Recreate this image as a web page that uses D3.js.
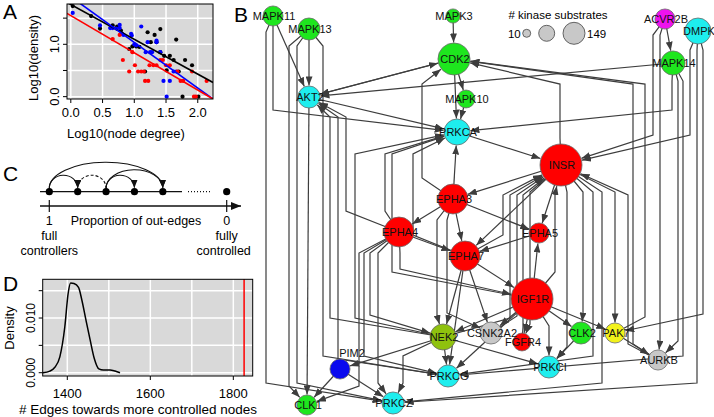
<!DOCTYPE html>
<html>
<head>
<meta charset="utf-8">
<script src="https://cdn.jsdelivr.net/npm/d3@7"></script>
<style>
  html, body { margin: 0; background: #fff; }
  svg { display: block; }
</style>
</head>
<body>
<svg id="fig" width="714" height="417"></svg>
<script>
// ---------- data: panel A (log10 node degree vs log10 density) ----------
var aBlack = [[0.03,1.73],[0.32,1.54],[0.46,1.30],[0.66,1.36],[0.73,1.34],[0.79,1.26],[0.92,0.91],[0.97,0.96],
  [1.03,0.96],[1.08,0.95],[1.21,1.23],[1.32,1.18],[1.41,1.29],[1.26,1.04],[1.35,1.04],[1.66,1.09],[1.41,0.85],
  [1.47,0.78],[1.56,0.78],[1.62,0.70],[1.80,0.70],[1.91,0.60],[1.51,0.50],[1.70,0.48],[1.17,0.48],[1.76,0.0],[2.01,0.0]];
var aBlue = [[0.03,1.60],[0.46,1.36],[0.62,1.31],[0.66,1.31],[0.77,1.37],[0.77,1.31],[0.81,1.20],[0.95,1.20],
  [0.96,1.17],[1.00,1.00],[1.03,0.98],[1.11,1.34],[1.21,1.04],[1.35,1.07],[1.35,1.04],[1.18,0.85],[1.25,0.85],
  [1.28,0.85],[1.41,0.85],[1.62,0.48],[1.66,0.48],[1.46,0.30],[1.56,0.30],[1.51,0.0],[0.72,1.30],[0.83,1.18]];
var aRed = [[0.66,1.10],[0.77,1.18],[0.82,0.70],[0.92,0.48],[0.97,0.85],[1.01,0.60],[1.06,0.48],[1.11,0.48],
  [1.15,0.48],[1.17,0.30],[1.22,0.30],[1.24,0.60],[1.30,0.60],[1.35,0.60],[1.41,0.70],[1.45,0.70],[1.50,0.60],
  [1.56,0.60],[1.68,0.48],[1.73,0.30],[1.77,0.30],[1.91,0.48],[1.94,0.0],[1.97,0.0],[2.14,0.30]];
var aFitBlack = [1.76, -0.665], aFitBlue = [1.908, -0.872], aFitRed = [1.547, -0.711]; // intercept, slope
var aXTicks = [0, 0.5, 1, 1.5, 2], aYTicks = [0, 0.5, 1, 1.5], aYLabelled = [0, 1];

// ---------- data: panel C (schematic) ----------
var cProps = [1, 0.84, 0.68, 0.52, 0.36, 0];
var cArcs = [[0, 1, 0], [0, 4, 0], [2, 1, 1], [2, 3, 0], [2, 4, 0]]; // from, to, dashed

// ---------- data: panel D (null distribution) ----------
var dEdgeCount = [1341, 1358, 1370, 1382, 1394, 1402, 1408, 1416, 1427, 1435, 1445, 1455, 1465, 1476, 1487, 1503, 1515, 1527];
var dDensity = [0.0, 0.0003, 0.001, 0.0029, 0.0084, 0.0145, 0.0164, 0.0163, 0.0156, 0.0133, 0.0096, 0.006, 0.0026, 0.0007, 0.0005, 0.0005, 0.0003, 0.0];
var dObserved = 1826;
var dXTicks = [1400, 1600, 1800], dXGrid = [1400, 1500, 1600, 1700, 1800];
var dYTicks = [0, 0.005, 0.01, 0.015], dYLabelled = [0, 0.01];

// ---------- data: panel B (kinase network; layout units) ----------
var bNames = ["MAPK11","MAPK13","MAPK3","CDK2","AKT2","MAPK10","PRKCA","ACVR2B","DMPK","MAPK14","INSR","EPHA3","EPHA4",
  "EPHA7","EPHA5","IGF1R","CSNK2A2","FGFR4","CLK2","PAK7","AURKB","PRKCI","NEK2","PRKCG","PIM2","CLK1","PRKCZ"];
var bLayoutX = [11,47,191,192,47,204,195,403,436,411,299,191,137,203,277,270,229,260,319,353,396,287,181,186,78,45,131];
var bLayoutY = [8,21,8,51,89,91,124,11,23,55,157,191,224,248,225,291,325,334,325,325,352,359,329,368,361,397,395];
var bSubstrates = [34,41,17,87,41,27,57,34,57,49,149,76,76,76,34,149,41,27,41,34,34,41,57,41,34,34,41];
var bGroup = ["CMGC","CMGC","CMGC","CMGC","AGC","CMGC","AGC","TKL","AGC","CMGC","TK","TK","TK",
  "TK","TK","TK","Other","TK","CMGC","STE","Other","AGC","NEK","AGC","CAMK","CMGC","AGC"];
var bLabelAbove = ["PIM2"];
var bEdges = [
  ["MAPK11","AKT2",null],["MAPK11","PRKCA",11],["MAPK11","PRKCZ",4],
  ["MAPK13","AKT2",null],["MAPK13","CLK1",27],["MAPK13","PRKCZ",35],["MAPK13","PRKCG",61],
  ["AKT2","CDK2",null],["CDK2","AKT2",null],["AKT2","PRKCA",null],["AKT2","CLK1",null],
  ["EPHA4","AKT2",84],["NEK2","AKT2",68],["PRKCG","AKT2",76],
  ["MAPK14","AKT2",null],["MAPK14","PRKCA",410],["MAPK3","CDK2",null],["CDK2","PRKCA",null],
  ["CDK2","MAPK10",null],["MAPK10","PRKCA",null],["INSR","CDK2",298],["AURKB","CDK2",371],
  ["PAK7","CDK2",383],["EPHA3","CDK2",160],["PRKCA","INSR",null],["EPHA3","PRKCA",null],
  ["INSR","EPHA3",null],["EPHA3","EPHA4",null],["EPHA3","EPHA7",null],["EPHA3","EPHA5",null],
  ["EPHA4","EPHA7",null],["EPHA4","PRKCA",123],["IGF1R","PRKCA",130],["EPHA7","PRKCA",151],
  ["NEK2","PRKCA",93],["EPHA5","EPHA7",null],["INSR","EPHA7",null],["INSR","EPHA5",null],
  ["IGF1R","EPHA5",null],["IGF1R","INSR",293],["EPHA7","IGF1R",null],["EPHA4","IGF1R",138],
  ["IGF1R","CSNK2A2",null],["IGF1R","FGFR4",null],["IGF1R","CLK2",null],["IGF1R","PRKCI",287],
  ["IGF1R","PAK7",null],["IGF1R","NEK2",null],["IGF1R","PRKCG",null],["NEK2","PIM2",null],
  ["NEK2","PRKCG",null],["NEK2","PRKCZ",141],["PIM2","CLK1",null],["PIM2","PRKCZ",null],
  ["CLK2","PRKCI",null],["PAK7","AURKB",null],["NEK2","PRKCI",null],["INSR","FGFR4",268],
  ["EPHA7","CSNK2A2",null],["EPHA7","NEK2",null],["EPHA7","PRKCG",null],
  ["ACVR2B","INSR",391],["ACVR2B","AURKB",398],["ACVR2B","MAPK14",null],
  ["DMPK","INSR",428],["DMPK","PRKCZ",435],["DMPK","PAK7",441],
  ["MAPK14","AURKB",416],["MAPK14","PRKCG",421],
  ["INSR","CLK2",321],["INSR","PAK7",353],["INSR","PRKCI",305],["INSR","PRKCG",331],["INSR","PRKCZ",340],
  ["EPHA7","INSR",241],["NEK2","INSR",248],["CSNK2A2","INSR",255],["FGFR4","INSR",261],["AURKB","INSR",366],
  ["EPHA4","NEK2",108],["EPHA4","PRKCG",102],["EPHA4","PRKCZ",116],["EPHA4","CLK1",97],
  ["EPHA3","NEK2",175],["EPHA3","CSNK2A2",185]
];
var bLegendValues = [10, 69, 149];

// ---------- setup ----------
var FONT = '"Liberation Sans", Arial, Helvetica, sans-serif';
var BG = "#d9d9d9", EDGE = "#3d3d3d";
var svg = d3.select("#fig").attr("font-family", FONT);
var defs = svg.append("defs");
defs.append("marker").attr("id", "arr").attr("markerUnits", "userSpaceOnUse")
  .attr("markerWidth", 9).attr("markerHeight", 7).attr("refX", 9).attr("refY", 3.5).attr("orient", "auto")
  .append("path").attr("d", "M0,0 L9,3.5 L0,7 Z").attr("fill", EDGE);
defs.append("marker").attr("id", "arrC").attr("markerUnits", "userSpaceOnUse")
  .attr("markerWidth", 8).attr("markerHeight", 7).attr("refX", 8).attr("refY", 3.5).attr("orient", "auto")
  .append("path").attr("d", "M0,0 L8,3.5 L0,7 Z").attr("fill", "#111");
defs.append("marker").attr("id", "arrAx").attr("markerUnits", "userSpaceOnUse")
  .attr("markerWidth", 10).attr("markerHeight", 8).attr("refX", 10).attr("refY", 4).attr("orient", "auto")
  .append("path").attr("d", "M0,0 L10,4 L0,8 Z").attr("fill", "#111");

function letter(t, x, y) {
  svg.append("text").attr("x", x).attr("y", y).attr("font-size", 21).attr("fill", "#000").text(t);
}

// ---------- panel A ----------
var ax = d3.scaleLinear().domain([-0.06, 2.24]).range([67, 213]);
var ay = d3.scaleLinear().domain([-0.045, 1.77]).range([99, 4]);
var gA = svg.append("g");
gA.append("rect").attr("x", ax.range()[0]).attr("y", ay.range()[1]).attr("width", ax.range()[1] - ax.range()[0])
  .attr("height", ay.range()[0] - ay.range()[1]).attr("fill", BG);
aXTicks.forEach(function (t) {
  gA.append("line").attr("x1", ax(t)).attr("x2", ax(t)).attr("y1", ay.range()[0]).attr("y2", ay.range()[1]).attr("stroke", "#fff").attr("stroke-width", 1.5);
});
aYTicks.forEach(function (t) {
  gA.append("line").attr("x1", ax.range()[0]).attr("x2", ax.range()[1]).attr("y1", ay(t)).attr("y2", ay(t)).attr("stroke", "#fff").attr("stroke-width", 1.5);
});
defs.append("clipPath").attr("id", "clipA").append("rect").attr("x", ax.range()[0]).attr("y", ay.range()[1])
  .attr("width", ax.range()[1] - ax.range()[0]).attr("height", ay.range()[0] - ay.range()[1]);
[[aBlack, "#000"], [aBlue, "#0000ff"], [aRed, "#ff0000"]].forEach(function (s) {
  gA.selectAll(null).data(s[0]).enter().append("circle").attr("cx", function (d) { return ax(d[0]); })
    .attr("cy", function (d) { return ay(d[1]); }).attr("r", 2.1).attr("fill", s[1]);
});
[[aFitBlack, "#000"], [aFitBlue, "#0000ff"], [aFitRed, "#ff0000"]].forEach(function (f) {
  var x0 = ax.domain()[0], x1 = ax.domain()[1], b = f[0];
  gA.append("line").attr("clip-path", "url(#clipA)").attr("x1", ax(x0)).attr("y1", ay(b[0] + b[1] * x0))
    .attr("x2", ax(x1)).attr("y2", ay(b[0] + b[1] * x1)).attr("stroke", f[1]).attr("stroke-width", 1.6);
});
gA.append("rect").attr("x", ax.range()[0]).attr("y", ay.range()[1]).attr("width", ax.range()[1] - ax.range()[0])
  .attr("height", ay.range()[0] - ay.range()[1]).attr("fill", "none").attr("stroke", "#000").attr("stroke-width", 1);
aXTicks.forEach(function (t) {
  gA.append("line").attr("x1", ax(t)).attr("x2", ax(t)).attr("y1", 99).attr("y2", 103).attr("stroke", "#000");
  gA.append("text").attr("x", ax(t)).attr("y", 117).attr("text-anchor", "middle").attr("font-size", 13).text(t.toFixed(1));
});
aYTicks.forEach(function (t) {
  gA.append("line").attr("x1", 67).attr("x2", 63).attr("y1", ay(t)).attr("y2", ay(t)).attr("stroke", "#000");
});
aYLabelled.forEach(function (t) {
  gA.append("text").attr("transform", "translate(59," + ay(t) + ") rotate(-90)").attr("text-anchor", "middle").attr("font-size", 13).text(t.toFixed(1));
});
gA.append("text").attr("x", 126).attr("y", 138).attr("text-anchor", "middle").attr("font-size", 13).text("Log10(node degree)");
gA.append("text").attr("transform", "translate(38,58) rotate(-90)").attr("text-anchor", "middle").attr("font-size", 13).text("Log10(density)");
letter("A", 3, 19);

// ---------- panel C ----------
var cx = d3.scaleLinear().domain([1, 0]).range([49.3, 226.7]);
var cY = 191.7, axY = 206;
var gC = svg.append("g");
gC.append("line").attr("x1", 40).attr("x2", 182).attr("y1", cY).attr("y2", cY).attr("stroke", "#111").attr("stroke-width", 1.3);
gC.append("line").attr("x1", 188).attr("x2", 212).attr("y1", cY).attr("y2", cY).attr("stroke", "#111").attr("stroke-width", 1.2).attr("stroke-dasharray", "1,2");
cArcs.forEach(function (a) {
  var x1 = cx(cProps[a[0]]), x2 = cx(cProps[a[1]]), span = Math.abs(a[1] - a[0]);
  var rx = Math.abs(x2 - x1) / 2, ry = Math.min(13 * Math.sqrt(span), 26);
  gC.append("path").attr("d", "M" + x1 + "," + (cY - 3) + " A" + rx + "," + ry + " 0 0 " + (x2 > x1 ? 1 : 0) + " " + x2 + "," + (cY - 4))
    .attr("fill", "none").attr("stroke", "#111").attr("stroke-width", 1.1)
    .attr("stroke-dasharray", a[2] ? "3,2" : null).attr("marker-end", "url(#arrC)");
});
gC.selectAll(null).data(cProps).enter().append("circle").attr("cx", function (d) { return cx(d); }).attr("cy", cY).attr("r", 3.6).attr("fill", "#000");
gC.append("line").attr("x1", 40).attr("x2", 241).attr("y1", axY).attr("y2", axY).attr("stroke", "#111").attr("stroke-width", 1.3).attr("marker-end", "url(#arrAx)");
[1, 0].forEach(function (p) {
  gC.append("line").attr("x1", cx(p)).attr("x2", cx(p)).attr("y1", axY - 6).attr("y2", axY + 6).attr("stroke", "#111").attr("stroke-width", 1.2);
  gC.append("text").attr("x", cx(p)).attr("y", 225).attr("text-anchor", "middle").attr("font-size", 12.5).text(String(p));
});
gC.append("text").attr("x", 136).attr("y", 225).attr("text-anchor", "middle").attr("font-size", 12.5).text("Proportion of out-edges");
gC.append("text").attr("x", cx(1)).attr("y", 240).attr("text-anchor", "middle").attr("font-size", 12.5).text("full");
gC.append("text").attr("x", cx(1)).attr("y", 255).attr("text-anchor", "middle").attr("font-size", 12.5).text("controllers");
gC.append("text").attr("x", cx(0)).attr("y", 240).attr("text-anchor", "middle").attr("font-size", 12.5).text("fully");
gC.append("text").attr("x", cx(0) - 3).attr("y", 255).attr("text-anchor", "middle").attr("font-size", 12.5).text("controlled");
letter("C", 3, 181);

// ---------- panel D ----------
var dx = d3.scaleLinear().domain([1340.7, 1846.7]).range([42.7, 252.7]);
var dy = d3.scaleLinear().domain([-0.0006, 0.01708]).range([376, 279.3]);
var gD = svg.append("g");
gD.append("rect").attr("x", dx.range()[0]).attr("y", dy.range()[1]).attr("width", dx.range()[1] - dx.range()[0])
  .attr("height", dy.range()[0] - dy.range()[1]).attr("fill", BG);
dXGrid.forEach(function (t) {
  gD.append("line").attr("x1", dx(t)).attr("x2", dx(t)).attr("y1", dy.range()[0]).attr("y2", dy.range()[1]).attr("stroke", "#fff").attr("stroke-width", 1.5);
});
dYTicks.forEach(function (t) {
  gD.append("line").attr("x1", dx.range()[0]).attr("x2", dx.range()[1]).attr("y1", dy(t)).attr("y2", dy(t)).attr("stroke", "#fff").attr("stroke-width", 1.5);
});
gD.append("path").datum(d3.zip(dEdgeCount, dDensity))
  .attr("d", d3.line().x(function (d) { return dx(d[0]); }).y(function (d) { return dy(d[1]); }).curve(d3.curveMonotoneX))
  .attr("fill", "none").attr("stroke", "#000").attr("stroke-width", 1.5);
gD.append("line").attr("x1", dx(dObserved)).attr("x2", dx(dObserved)).attr("y1", dy.range()[0]).attr("y2", dy.range()[1]).attr("stroke", "#ff0000").attr("stroke-width", 1.5);
gD.append("rect").attr("x", dx.range()[0]).attr("y", dy.range()[1]).attr("width", dx.range()[1] - dx.range()[0])
  .attr("height", dy.range()[0] - dy.range()[1]).attr("fill", "none").attr("stroke", "#000");
dXTicks.forEach(function (t) {
  gD.append("line").attr("x1", dx(t)).attr("x2", dx(t)).attr("y1", 376).attr("y2", 380).attr("stroke", "#000");
  gD.append("text").attr("x", dx(t)).attr("y", 398).attr("text-anchor", "middle").attr("font-size", 13).text(t);
});
dYTicks.forEach(function (t) {
  gD.append("line").attr("x1", 42.7).attr("x2", 38.7).attr("y1", dy(t)).attr("y2", dy(t)).attr("stroke", "#000");
});
dYLabelled.forEach(function (t) {
  gD.append("text").attr("transform", "translate(35," + dy(t) + ") rotate(-90)").attr("text-anchor", "middle").attr("font-size", 12).text(t.toFixed(3));
});
gD.append("text").attr("x", 138).attr("y", 414).attr("text-anchor", "middle").attr("font-size", 13.5).text("# Edges towards more controlled nodes");
gD.append("text").attr("transform", "translate(14,328) rotate(-90)").attr("text-anchor", "middle").attr("font-size", 13).text("Density");
letter("D", 3, 291);

// ---------- panel B ----------
var bx = d3.scaleLinear().domain([0, 450]).range([262, 712]);
var by = d3.scaleLinear().domain([0, 404]).range([8, 412]);
var br = d3.scaleSqrt().domain([0, 149]).range([0, 21]);
var groupColor = d3.scaleOrdinal().domain(["TK", "CMGC", "AGC", "TKL", "CAMK", "STE", "NEK", "Other"])
  .range(["#ff0000", "#1ee61e", "#1eeeee", "#ee12ee", "#0a0aee", "#f2f21a", "#8fc20e", "#c8c8c8"]);
var nodes = bNames.map(function (n, i) {
  return { name: n, x: bx(bLayoutX[i]), y: by(bLayoutY[i]), r: br(bSubstrates[i]), group: bGroup[i] };
});
var nodeBy = {};
nodes.forEach(function (n) { nodeBy[n.name] = n; });

// orthogonal-ish routing: leave the source, run down/up a vertical lane, then cut across to the target
function route(e) {
  var s = nodeBy[e[0]], t = nodeBy[e[1]], pts = [[s.x, s.y]];
  if (e[2] !== null) {
    var dir = t.y >= s.y ? 1 : -1, lx = bx(e[2]);
    pts.push([lx, s.y + dir * (s.r + 6)]);
    pts.push([lx, t.y - dir * (t.r + 9)]);
  }
  var last = pts[pts.length - 1], ddx = t.x - last[0], ddy = t.y - last[1], L = Math.hypot(ddx, ddy) || 1;
  pts.push([t.x - ddx / L * (t.r + 0.5), t.y - ddy / L * (t.r + 0.5)]);
  return pts;
}
var gB = svg.append("g");
gB.selectAll("path.edge").data(bEdges).enter().append("path").attr("class", "edge")
  .attr("d", function (e) { return d3.line()(route(e)); })
  .attr("fill", "none").attr("stroke", EDGE).attr("stroke-width", 1.2).attr("marker-end", "url(#arr)");
gB.selectAll("circle.node").data(nodes).enter().append("circle").attr("class", "node")
  .attr("cx", function (d) { return d.x; }).attr("cy", function (d) { return d.y; }).attr("r", function (d) { return d.r; })
  .attr("fill", function (d) { return groupColor(d.group); }).attr("stroke", "#6a6a6a").attr("stroke-width", 0.8);
gB.selectAll("text.lab").data(nodes).enter().append("text").attr("class", "lab")
  .attr("x", function (d) { return bLabelAbove.indexOf(d.name) >= 0 ? d.x + 12 : d.x + 1; })
  .attr("y", function (d) { return bLabelAbove.indexOf(d.name) >= 0 ? d.y - d.r - 2 : d.y + 4; })
  .attr("text-anchor", "middle").attr("font-size", 11).attr("fill", "#111").text(function (d) { return d.name; });

// legend: # kinase substrates
var legR = d3.scaleSqrt().domain([10, 149]).range([4, 11]);
var legX = [526.7, 546.7, 574];
gB.append("text").attr("x", 558).attr("y", 19).attr("text-anchor", "middle").attr("font-size", 11.5).text("# kinase substrates");
gB.selectAll("circle.leg").data(bLegendValues).enter().append("circle").attr("class", "leg")
  .attr("cx", function (d, i) { return legX[i]; }).attr("cy", 33.3).attr("r", function (d) { return legR(d); })
  .attr("fill", "#c8c8c8").attr("stroke", "#555").attr("stroke-width", 0.9);
gB.append("text").attr("x", legX[0] - legR(bLegendValues[0]) - 2).attr("y", 37.5).attr("text-anchor", "end").attr("font-size", 11.5).text(bLegendValues[0]);
gB.append("text").attr("x", legX[2] + legR(bLegendValues[2]) + 2).attr("y", 37.5).attr("font-size", 11.5).text(bLegendValues[2]);
letter("B", 234, 22);
</script>
</body>
</html>
